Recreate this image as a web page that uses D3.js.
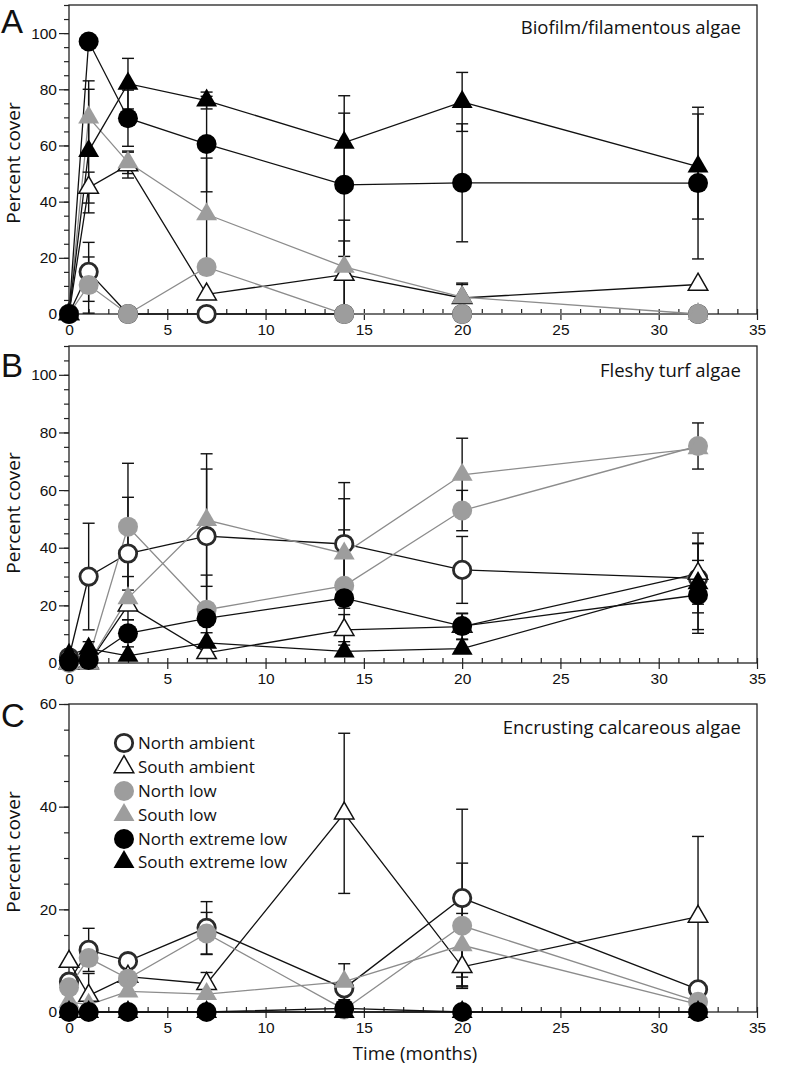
<!DOCTYPE html>
<html>
<head>
<meta charset="utf-8">
<script src="https://cdn.jsdelivr.net/npm/d3@7"></script>
<style>
  html, body { margin: 0; padding: 0; background: #fff; }
  svg { display: block; }
</style>
</head>
<body>
<svg id="chart" width="799" height="1065"></svg>
<script>
// ---------------- DATA ----------------
const time = [0, 1, 3, 7, 14, 20, 32];
const seriesNames = ["North ambient", "South ambient", "North low", "South low", "North extreme low", "South extreme low"];
const xTicks = [0, 5, 10, 15, 20, 25, 30, 35];
const yTicks100 = [0, 20, 40, 60, 80, 100];
const yTicks60 = [0, 20, 40, 60];
const panelLetters = ["A", "B", "C"];
const panelTitles = ["Biofilm/filamentous algae", "Fleshy turf algae", "Encrusting calcareous algae"];

// Panel A: Biofilm/filamentous algae (means, then standard errors), order = seriesNames
const biofilmMeans = [
  [0, 15, 0, 0, 0, 0, 0],
  [0, 45, 53, 7, 14, 5.7, 10.5],
  [0, 10.3, 0, 16.7, 0, 0, 0],
  [0, 70, 54, 35.5, 16.8, 6, 0],
  [0, 97, 69.7, 60.5, 46, 46.7, 46.6],
  [0, 58, 82, 76, 61, 75.5, 52.5]
];
const biofilmErrors = [
  [0, 10.5, 0, 0, 0, 0, 0],
  [0, 5.5, 4.6, 0, 12, 5.3, 0],
  [0, 10, 0, 0, 0, 0, 0],
  [0, 13, 4, 20, 16.6, 4.5, 0],
  [0, 0, 10, 17, 25.5, 21, 27],
  [0, 22, 9, 3, 16.7, 10.5, 18.7]
];

// Panel B: Fleshy turf algae
const turfMeans = [
  [2, 30, 38, 44, 41.3, 32.3, 29.4],
  [0, 0, 20, 3.5, 11.5, 12.6, 31],
  [0, 1.5, 47.3, 18.5, 26.8, 52.9, 75.3],
  [0, 0, 22.5, 49.6, 38, 65.3, 74.5],
  [0.5, 1, 10.3, 15.5, 22.5, 12.8, 23.6],
  [2.8, 5, 2.5, 7, 4, 5, 27.7]
];
const turfErrors = [
  [0, 18.5, 19.5, 23.3, 21.3, 11.6, 12],
  [0, 0, 0, 0, 5.3, 4.5, 10.6],
  [0, 0, 22, 12, 19.4, 7, 8],
  [0, 0, 7.5, 23, 19, 12.7, 0],
  [0, 0, 4.7, 5, 0, 4.5, 12],
  [0, 2.4, 0, 0, 0, 0, 17.4]
];

// Panel C: Encrusting calcareous algae
const crustMeans = [
  [5.9, 12.1, 9.9, 16.4, 4.6, 22.2, 4.4],
  [9.8, 3.2, 6.9, 5.5, 38.7, 8.8, 18.6],
  [4.8, 10.5, 6.5, 15.3, 0.5, 16.8, 2],
  [2, 1.4, 4, 3.5, 5.9, 13, 1.5],
  [0, 0, 0, 0, 0.7, 0, 0],
  [0, 0, 0, 0, 0, 0, 0]
];
const crustErrors = [
  [0, 4.2, 0, 5.1, 0, 17.3, 0],
  [0, 4.3, 0, 2.2, 15.6, 3.7, 15.6],
  [0, 0, 0, 4.1, 0, 12.2, 0],
  [0, 0, 0, 0, 3.5, 6.2, 0],
  [0, 0, 0, 0, 0, 0, 0],
  [0, 0, 0, 0, 0, 0, 0]
];

// ---------------- STYLE ----------------
const GRAY = "#9d9d9d";
const LINEGRAY = "#8c8c8c";
const DARK = "#111";
const styles = [
  { shape: "circle", fill: "#fff", stroke: "#2a2a2a", sw: 2.8, line: DARK },
  { shape: "triangle", fill: "#fff", stroke: "#111", sw: 1.5, line: DARK },
  { shape: "circle", fill: GRAY, stroke: "none", sw: 0, line: LINEGRAY },
  { shape: "triangle", fill: GRAY, stroke: "none", sw: 0, line: LINEGRAY },
  { shape: "circle", fill: "#000", stroke: "none", sw: 0, line: DARK },
  { shape: "triangle", fill: "#000", stroke: "none", sw: 0, line: DARK }
];
function symPath(st, open) {
  if (st.shape === "circle") return d3.symbol().type(d3.symbolCircle).size(Math.PI * (open ? 8.7 * 8.7 : 10 * 10))();
  return d3.symbol().type(d3.symbolTriangle).size(open ? 165 : 190)();
}

const tickFont = "'Liberation Sans', Arial, sans-serif";
const textFont = "'Open Sans', 'Noto Sans', sans-serif";

const svg = d3.select("#chart");
const xLeft = 69, xRight = 757;
const x = d3.scaleLinear().domain([0, 35]).range([xLeft, xRight]);

const panels = [
  { top: 5, bottom: 314, max: 110, yt: yTicks100, means: biofilmMeans, errs: biofilmErrors, letterY: 33, ylabY: 163, titleY: 34 },
  { top: 346, bottom: 663, max: 110, yt: yTicks100, means: turfMeans, errs: turfErrors, letterY: 377, ylabY: 513, titleY: 377 },
  { top: 704, bottom: 1012, max: 60, yt: yTicks60, means: crustMeans, errs: crustErrors, letterY: 727, ylabY: 852, titleY: 734 }
];

panels.forEach((p, pi) => {
  const y = d3.scaleLinear().domain([0, p.max]).range([p.bottom, p.top]);
  const g = svg.append("g");

  g.append("rect").attr("x", xLeft).attr("y", p.top)
    .attr("width", xRight - xLeft).attr("height", p.bottom - p.top)
    .attr("fill", "none").attr("stroke", "#222").attr("stroke-width", 1.3);

  const yMinor = d3.range(0, p.max + 0.1, 5);
  const ayMin = g.append("g").attr("transform", `translate(${xLeft},0)`)
    .call(d3.axisLeft(y).tickValues(yMinor).tickSize(5).tickFormat(""));
  ayMin.select(".domain").remove();
  const ay = g.append("g").attr("transform", `translate(${xLeft},0)`)
    .call(d3.axisLeft(y).tickValues(p.yt).tickSize(10).tickPadding(2));
  ay.select(".domain").remove();
  ay.selectAll("text").attr("font-family", tickFont).attr("font-size", 15.5).attr("fill", "#111");

  const axMin = g.append("g").attr("transform", `translate(0,${p.bottom})`)
    .call(d3.axisBottom(x).tickValues(d3.range(0, 35.1, 1)).tickSize(-5).tickFormat(""));
  axMin.select(".domain").remove();
  const ax = g.append("g").attr("transform", `translate(0,${p.bottom})`)
    .call(d3.axisBottom(x).tickValues(xTicks).tickSize(6).tickPadding(4));
  ax.select(".domain").remove();
  ax.selectAll("text").attr("font-family", tickFont).attr("font-size", 15.5).attr("fill", "#111");
  g.selectAll(".tick line").attr("stroke", "#222").attr("stroke-width", 1.2);

  const line = d3.line().x((d, i) => x(time[i])).y(d => y(d));
  p.means.forEach((vals, si) => {
    g.append("path").datum(vals).attr("d", line)
      .attr("fill", "none").attr("stroke", styles[si].line).attr("stroke-width", 1.3);
  });

  p.means.forEach((vals, si) => {
    vals.forEach((v, i) => {
      const e = p.errs[si][i];
      if (!e) return;
      const cx = x(time[i]);
      const lo = Math.max(0, v - e), hi = v + e;
      g.append("line").attr("x1", cx).attr("x2", cx).attr("y1", y(lo)).attr("y2", y(hi))
        .attr("stroke", "#111").attr("stroke-width", 1.4);
      [lo, hi].forEach(b => {
        g.append("line").attr("x1", cx - 6).attr("x2", cx + 6).attr("y1", y(b)).attr("y2", y(b))
          .attr("stroke", "#111").attr("stroke-width", 1.4);
      });
    });
  });

  p.means.forEach((vals, si) => {
    const st = styles[si];
    const open = st.fill === "#fff";
    vals.forEach((v, i) => {
      g.append("path").attr("d", symPath(st, open))
        .attr("transform", `translate(${x(time[i])},${y(v)})`)
        .attr("fill", st.fill).attr("stroke", st.stroke).attr("stroke-width", st.sw);
    });
  });

  svg.append("text").attr("x", 1).attr("y", p.letterY).text(panelLetters[pi])
    .attr("font-family", tickFont).attr("font-size", 33).attr("fill", "#111");
  svg.append("text").attr("transform", `translate(20,${p.ylabY}) rotate(-90)`)
    .attr("text-anchor", "middle").text("Percent cover")
    .attr("font-family", textFont).attr("font-size", 19).attr("fill", "#111");
  svg.append("text").attr("x", 741).attr("y", p.titleY).attr("text-anchor", "end")
    .text(panelTitles[pi]).attr("font-family", textFont).attr("font-size", 18.5).attr("fill", "#111");
});

svg.append("text").attr("x", 415).attr("y", 1060).attr("text-anchor", "middle")
  .text("Time (months)").attr("font-family", textFont).attr("font-size", 18.5).attr("fill", "#111");

const legendRowY = [743, 767, 791, 815, 839, 862];
seriesNames.forEach((name, si) => {
  const st = styles[si];
  const open = st.fill === "#fff";
  svg.append("path").attr("d", symPath(st, open))
    .attr("transform", `translate(124,${legendRowY[si]})`)
    .attr("fill", st.fill).attr("stroke", st.stroke).attr("stroke-width", st.sw);
  svg.append("text").attr("x", 138).attr("y", legendRowY[si] + 6).text(name)
    .attr("font-family", textFont).attr("font-size", 17).attr("fill", "#111");
});
</script>
</body>
</html>
